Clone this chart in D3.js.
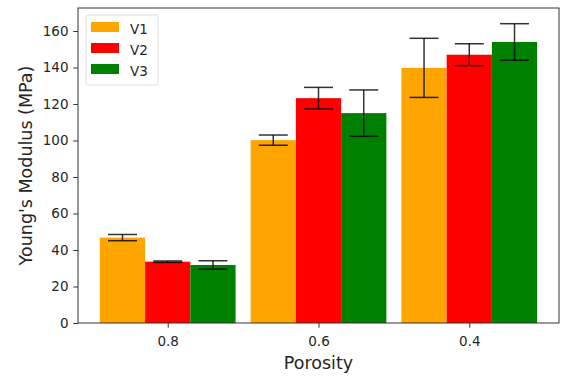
<!DOCTYPE html>
<html>
<head>
<meta charset="utf-8">
<script src="https://cdn.jsdelivr.net/npm/d3@7"></script>
<style>
  body { margin: 0; background: #fff; }
  text { font-family: "DejaVu Sans", sans-serif; }
</style>
</head>
<body>
<div id="chart"></div>
<script>
const porosity = ["0.8", "0.6", "0.4"];
const seriesNames = ["V1", "V2", "V3"];
const seriesColors = ["orange", "red", "green"];
const v1 = [46.8, 100.2, 139.8];
const v2 = [33.6, 123.2, 147.0];
const v3 = [31.8, 115.0, 154.0];
const v1Err = [1.7, 2.8, 16.2];
const v2Err = [0.4, 5.9, 6.0];
const v3Err = [2.3, 12.7, 10.0];
const yTicks = [0, 20, 40, 60, 80, 100, 120, 140, 160];

const values = [v1, v2, v3];
const errors = [v1Err, v2Err, v3Err];

const margin = { top: 8, right: 2, bottom: 53, left: 78 };
const width = 561 - margin.left - margin.right;
const height = 376 - margin.top - margin.bottom;
const barW = 0.3;

const svg = d3.select("#chart")
    .append("svg")
    .attr("width", 561)
    .attr("height", 376)
    .append("g")
    .attr("transform", `translate(${margin.left},${margin.top})`);

const x = d3.scaleLinear()
    .domain([-0.595, 2.595])
    .range([0, width]);

const y = d3.scaleLinear()
    .domain([0, 172.6])
    .range([height, 0]);

// bars
seriesNames.forEach((name, s) => {
    const off = (s - 1) * barW;
    svg.selectAll(".bar" + s)
        .data(values[s])
        .enter()
        .append("rect")
        .attr("x", (d, i) => x(i + off - barW / 2))
        .attr("y", d => y(d))
        .attr("width", x(barW) - x(0))
        .attr("height", d => y(0) - y(d))
        .attr("fill", seriesColors[s]);
});

// error bars
const cap = 14.5;
seriesNames.forEach((name, s) => {
    const off = (s - 1) * barW;
    const g = svg.append("g")
        .attr("stroke", "#000")
        .attr("stroke-opacity", 0.8)
        .attr("stroke-width", 1.5);
    values[s].forEach((v, i) => {
        const cx = x(i + off);
        const lo = y(v - errors[s][i]);
        const hi = y(v + errors[s][i]);
        g.append("line").attr("x1", cx).attr("x2", cx).attr("y1", lo).attr("y2", hi);
        g.append("line").attr("x1", cx - cap).attr("x2", cx + cap).attr("y1", lo).attr("y2", lo);
        g.append("line").attr("x1", cx - cap).attr("x2", cx + cap).attr("y1", hi).attr("y2", hi);
    });
});

// axes
const xAxis = d3.axisBottom(x)
    .tickValues([0, 1, 2])
    .tickFormat(i => porosity[i])
    .tickSize(4.7)
    .tickSizeOuter(0);
const yAxis = d3.axisLeft(y)
    .tickValues(yTicks)
    .tickSize(4.7)
    .tickSizeOuter(0);

const gx = svg.append("g")
    .attr("transform", `translate(0,${height})`)
    .call(xAxis);
const gy = svg.append("g").call(yAxis);

[gx, gy].forEach(g => {
    g.select(".domain").remove();
    g.selectAll("line").attr("stroke", "#333").attr("stroke-width", 1);
    g.selectAll("text").attr("font-size", 13.5).attr("fill", "#262626")
        .style("font-family", "DejaVu Sans");
});
gx.selectAll("text").attr("dy", "0.71em").attr("y", 13);
gy.selectAll("text").attr("x", -9.5);

// frame
svg.append("rect")
    .attr("width", width)
    .attr("height", height)
    .attr("fill", "none")
    .attr("stroke", "#333")
    .attr("stroke-width", 1);

// axis labels
svg.append("text")
    .attr("x", width / 2)
    .attr("y", height + 46)
    .attr("text-anchor", "middle")
    .attr("font-size", 17.5)
    .attr("fill", "#262626")
    .text("Porosity");

svg.append("text")
    .attr("transform", `translate(${-46},${height / 2}) rotate(-90)`)
    .attr("text-anchor", "middle")
    .attr("font-size", 17.5)
    .attr("fill", "#262626")
    .text("Young's Modulus (MPa)");

// legend
const legend = svg.append("g").attr("transform", "translate(8,7)");
legend.append("rect")
    .attr("width", 72)
    .attr("height", 70)
    .attr("rx", 2)
    .attr("fill", "#fff")
    .attr("fill-opacity", 0.8)
    .attr("stroke", "#ddd");
seriesNames.forEach((name, s) => {
    legend.append("rect")
        .attr("x", 5)
        .attr("y", 7 + s * 21)
        .attr("width", 28)
        .attr("height", 10)
        .attr("fill", seriesColors[s]);
    legend.append("text")
        .attr("x", 44)
        .attr("y", 19 + s * 21)
        .attr("font-size", 13.5)
        .attr("fill", "#262626")
        .text(name);
});
</script>
</body>
</html>
